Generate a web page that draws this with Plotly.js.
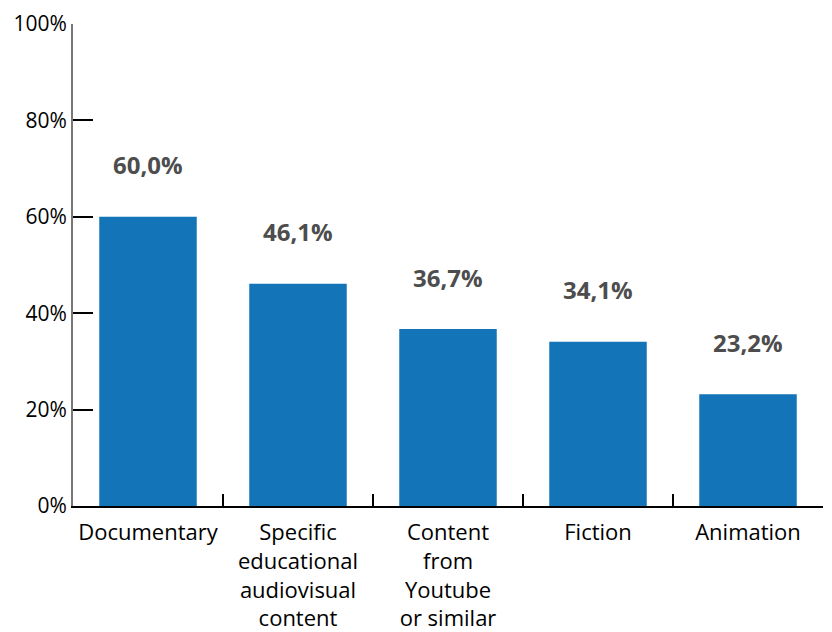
<!DOCTYPE html>
<html>
<head>
<meta charset="utf-8">
<script src="https://cdn.plot.ly/plotly-3.0.1.min.js"></script>
<style>html,body{margin:0;padding:0;background:#fff;}#chart{width:832px;height:632px;}</style>
</head>
<body>
<div id="chart"></div>
<script>
const categories = ["Documentary", "Specific<br>educational<br>audiovisual<br>content", "Content<br>from<br>Youtube<br>or similar", "Fiction", "Animation"];
const values = [60.0, 46.1, 36.7, 34.1, 23.2];
const yTicks = [0, 20, 40, 60, 80, 100];
const yTickText = ["0%", "20%", "40%", "60%", "80%", "100%"];

const FONT = "Open Sans, Noto Sans, sans-serif";

const trace = {
  type: "bar",
  x: categories,
  y: values,
  marker: {color: "#1375b8"},
  hoverinfo: "none"
};

const annotations = categories.map((c, i) => ({
  x: c, y: values[i], xref: "x", yref: "y",
  text: values[i].toFixed(1).replace(".", ",") + "%",
  showarrow: false, yshift: 52,
  font: {family: FONT, size: 24, color: "#4d4d4d", weight: "bold"}
}));

const layout = {
  width: 832, height: 632,
  margin: {l: 73, r: 9, t: 24, b: 126},
  paper_bgcolor: "#fff", plot_bgcolor: "#fff",
  bargap: 0.35,
  showlegend: false,
  font: {family: FONT, size: 22, color: "#000"},
  xaxis: {
    type: "category",
    showline: true, linecolor: "#000", linewidth: 2,
    ticks: "inside", tickson: "boundaries", ticklen: 12, tickwidth: 2, tickcolor: "#000",
    showgrid: false, zeroline: false,
    tickangle: 0, automargin: false,
    ticklabelstandoff: 6,
    tickfont: {family: FONT, size: 22, color: "#000"}
  },
  yaxis: {
    range: [0, 100], tickmode: "array", tickvals: yTicks, ticktext: yTickText,
    showline: true, linecolor: "#777", linewidth: 2,
    ticks: "inside", ticklen: 20, tickwidth: 2, tickcolor: "#000",
    showgrid: false, zeroline: false,
    tickfont: {family: FONT, size: 21, color: "#000"}
  },
  annotations: annotations
};

Plotly.newPlot("chart", [trace], layout, {staticPlot: true, displayModeBar: false});
</script>
</body>
</html>
